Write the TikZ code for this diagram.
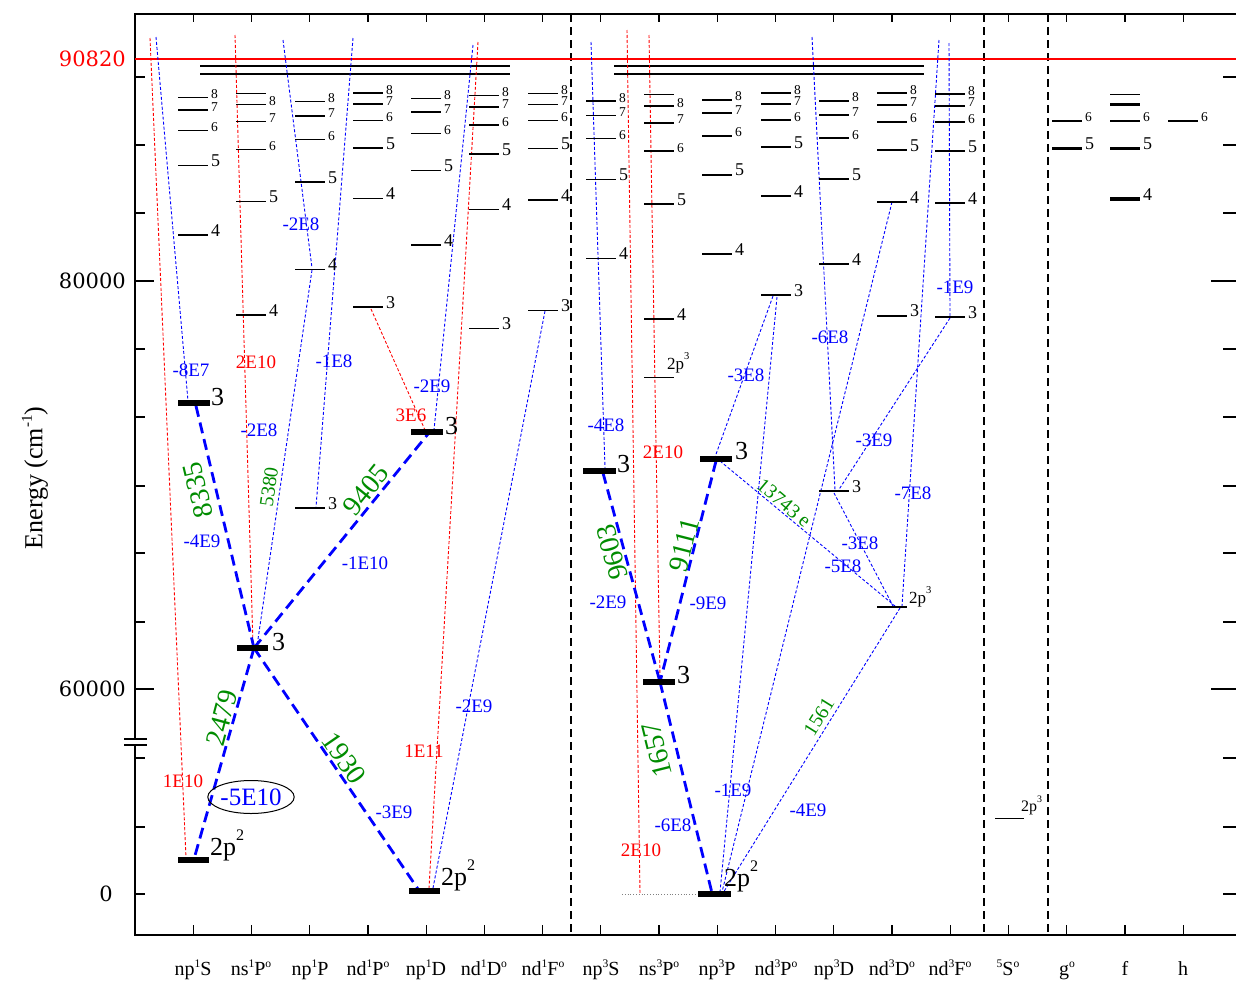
\documentclass[tikz,border=0pt]{standalone}
\usepackage{fontspec}
\setmainfont{Liberation Serif}
\newfontfamily\tickfont{DejaVu Serif}
\usetikzlibrary{shapes.geometric}
\newcommand\fs[1]{\fontsize{#1}{#1}\selectfont}
\newcommand\Sc[1]{\raisebox{0.4em}{\scalebox{0.58}{#1}}}
\newcommand\Su[1]{\raisebox{0.55em}{\scalebox{0.62}{#1}}}
\definecolor{dgreen}{RGB}{0,140,0}
\tikzset{
  every node/.style={inner sep=0pt},
  lvS/.style={line width=1.5pt},
  lvT/.style={line width=2.2pt},
  lvt/.style={line width=1.3pt},
  bar/.style={line width=6pt},
  strong/.style={blue,line width=2.8pt,dash pattern=on 11pt off 6pt},
  wb/.style={blue,line width=0.9pt,dash pattern=on 3pt off 2pt},
  wr/.style={red,line width=0.9pt,dash pattern=on 3pt off 2pt},
  sepl/.style={line width=1.4pt,dash pattern=on 8pt off 5pt},
  ab/.style={text=blue,font=\fs{19}},
  ar/.style={text=red,font=\fs{19}},
  wl/.style={text=dgreen,font=\fs{28}},
  wls/.style={text=dgreen,font=\fs{20}},
  nS/.style={font=\fs{13.5},anchor=base west},
  nM/.style={font=\fs{18},anchor=base west},
  nB/.style={font=\fs{26},anchor=base west},
  cat/.style={font=\fs{20},anchor=base},
  tk/.style={line width=1.2pt},
  tl/.style={font=\tickfont\fs{21}},
}
\newcommand\lvl[6]{%
  \draw[#4] (#2-15,#3) -- (#2+15,#3);
  \coordinate (#1) at (#2,#3);
  \node[#5] (#1l) at (#2+18,#3+1) {#6};}
\begin{document}
\begin{tikzpicture}[x=1pt,y=-1pt]
\useasboundingbox (0,0) rectangle (1236,980);
% frame
\draw[line width=1.8pt] (1236,14) -- (135,14) -- (135,935) -- (1236,935);
% y ticks
\foreach \yy in {281,689} {\draw[tk] (135,\yy) -- (154,\yy); \draw[tk] (1211,\yy) -- (1236,\yy);}
\foreach \yy in {77,145,213,349,417,486,553,622,758,827,894} {\draw[tk] (135,\yy) -- (145,\yy); \draw[tk] (1223,\yy) -- (1236,\yy);}
% axis break
\fill[white] (132,739) rectangle (138,745);
\draw[tk] (124,739) -- (147,739);
\draw[tk] (124,745) -- (147,745);
% x ticks
\foreach \k in {1,...,18} {\draw[tk] ({135+58.23*\k},935) -- ({135+58.23*\k},925); \draw[tk] ({135+58.23*\k},14) -- ({135+58.23*\k},22);}
% separators
\draw[sepl] (571,14) -- (571,935);
\draw[sepl] (984,14) -- (984,935);
\draw[sepl] (1048,14) -- (1048,935);
% tick labels
\node[tl,text=red,anchor=east] (t90) at (126,59) {90820};
\node[tl,anchor=east] (t80) at (126,281) {80000};
\node[tl,anchor=east] (t60) at (126,689) {60000};
\node[tl] (t0) at (106,894) {0};
\node[rotate=90,font=\fs{26}] (ylab) at (35,478) {Energy (cm\Sc{-1})};
% ionization line
\draw[red,line width=1.3pt] (135,59) -- (1236,59);
\draw[line width=1.5pt] (200,66) -- (510,66) (200,74) -- (510,74) (614,66) -- (924,66) (614,74) -- (924,74);

% ---------- transition coordinates ----------
\coordinate (tA) at (150,38); \coordinate (eA) at (186,858);
\coordinate (tB) at (156,37); \coordinate (eB) at (188,401);
\coordinate (tC) at (235,35); \coordinate (eC) at (253,645);
\coordinate (tD) at (283,40); \coordinate (eD) at (312,268);
\coordinate (eE1) at (312,270); \coordinate (eE2) at (257,646);
\coordinate (tF) at (353,38); \coordinate (eF) at (316,507);
\coordinate (tG) at (473,45); \coordinate (eG) at (434,430);
\coordinate (tH) at (478,42); \coordinate (eH) at (429,888);
\coordinate (eI1) at (545,311); \coordinate (eI2) at (433,888);
\coordinate (eJ1) at (371,309); \coordinate (eJ2) at (425,430);
\coordinate (k1) at (196,406); \coordinate (hub1) at (254,648);
\coordinate (k2) at (428,434); \coordinate (k3) at (194,859); \coordinate (k4) at (418,889);
\coordinate (tK) at (591,42); \coordinate (eK) at (605,468);
\coordinate (tL) at (627,30); \coordinate (eL) at (640,894);
\coordinate (tM) at (649,35); \coordinate (eM) at (660,678);
\coordinate (tN) at (812,37); \coordinate (eN) at (835,490);
\coordinate (tO) at (939,40); \coordinate (eO) at (902,606);
\coordinate (tP) at (949,43); \coordinate (eP) at (950,316);
\coordinate (eQ1) at (950,318); \coordinate (eQ2) at (838,491);
\coordinate (eR1) at (892,202); \coordinate (eR2) at (722,892);
\coordinate (eS1) at (773,296); \coordinate (eS2) at (715,457);
\coordinate (eT1) at (777,297); \coordinate (eT2) at (720,892);
\coordinate (eU1) at (720,461); \coordinate (eU2) at (895,606);
\coordinate (eV1) at (834,493); \coordinate (eV2) at (893,606);
\coordinate (eW1) at (900,608); \coordinate (eW2) at (723,893);
\coordinate (m1) at (603,473); \coordinate (hub2) at (660,682);
\coordinate (m2) at (716,461); \coordinate (m3) at (712,893);
\coordinate (g1) at (622,894); \coordinate (g2) at (700,894);

% ---------- weak transitions ----------
\draw[wr] (tA) -- (eA);
\draw[wb] (tB) -- (eB);
\draw[wr] (tC) -- (eC);
\draw[wb] (tD) -- (eD);
\draw[wb] (eE1) -- (eE2);
\draw[wb] (tF) -- (eF);
\draw[wb] (tG) -- (eG);
\draw[wr] (tH) -- (eH);
\draw[wb] (eI1) -- (eI2);
\draw[wr] (eJ1) -- (eJ2);
\draw[wb] (tK) -- (eK);
\draw[wr] (tL) -- (eL);
\draw[gray,line width=0.8pt,dotted] (g1) -- (g2);
\draw[wr] (tM) -- (eM);
\draw[wb] (tN) -- (eN);
\draw[wb] (tO) -- (eO);
\draw[wb] (tP) -- (eP);
\draw[wb] (eQ1) -- (eQ2);
\draw[wb] (eR1) -- (eR2);
\draw[wb] (eS1) -- (eS2);
\draw[wb] (eT1) -- (eT2);
\draw[wb] (eU1) -- (eU2);
\draw[wb] (eV1) -- (eV2);
\draw[wb] (eW1) -- (eW2);
% ---------- strong transitions ----------
\draw[strong] (k1) -- (hub1);
\draw[strong] (hub1) -- (k2);
\draw[strong] (hub1) -- (k3);
\draw[strong] (hub1) -- (k4);
\draw[strong] (m1) -- (hub2);
\draw[strong] (m2) -- (hub2);
\draw[strong] (hub2) -- (m3);

% ---------- singlet levels ----------
\lvl{a8}{193}{97.7}{lvt}{nS}{8}
\lvl{a7}{193}{110}{lvt}{nS}{7}
\lvl{a6}{193}{130.7}{lvt}{nS}{6}
\lvl{a5}{193}{165.7}{lvt}{nM}{5}
\lvl{a4}{193}{235}{lvt}{nM}{4}
\draw[bar] (178,403) -- (210,403); \node[nB] (a3l) at (211,405) {3};
\draw[bar] (178,860) -- (209,860); \node[nB] (a2l) at (210,855) {2p\Su{2}};

\draw[lvS] (236,93.3) -- (266,93.3); \coordinate (b9) at (251,93.3);
\lvl{b8}{251}{104.7}{lvS}{nS}{8}
\lvl{b7}{251}{121.3}{lvS}{nS}{7}
\lvl{b6}{251}{149.3}{lvS}{nS}{6}
\lvl{b5}{251}{201.7}{lvS}{nM}{5}
\lvl{b4}{251}{315}{lvS}{nM}{4}
\draw[bar] (237,648) -- (268,648); \node[nB] (b3l) at (272,650) {3};

\lvl{c8}{310}{101.3}{lvS}{nS}{8}
\lvl{c7}{310}{116}{lvS}{nS}{7}
\lvl{c6}{310}{139.3}{lvS}{nS}{6}
\lvl{c5}{310}{182}{lvS}{nM}{5}
\lvl{c4}{310}{269.3}{lvS}{nM}{4}
\lvl{c3}{310}{508}{lvS}{nM}{3}

\lvl{d8}{368}{93}{lvS}{nS}{8}
\lvl{d7}{368}{104}{lvS}{nS}{7}
\lvl{d6}{368}{120.7}{lvS}{nS}{6}
\lvl{d5}{368}{148}{lvS}{nM}{5}
\lvl{d4}{368}{198.3}{lvS}{nM}{4}
\lvl{d3}{368}{307}{lvS}{nM}{3}

\lvl{e8}{426}{98.3}{lvS}{nS}{8}
\lvl{e7}{426}{112}{lvS}{nS}{7}
\lvl{e6}{426}{133.3}{lvS}{nS}{6}
\lvl{e5}{426}{170.3}{lvS}{nM}{5}
\lvl{e4}{426}{245}{lvS}{nM}{4}
\draw[bar] (411,432.3) -- (443,432.3); \node[nB] (e3l) at (445,434) {3};
\draw[bar] (409,890.5) -- (440,890.5); \node[nB] (e2l) at (441,885) {2p\Su{2}};

\lvl{f8}{484}{95.7}{lvS}{nS}{8}
\lvl{f7}{484}{107}{lvS}{nS}{7}
\lvl{f6}{484}{125}{lvS}{nS}{6}
\lvl{f5}{484}{154}{lvS}{nM}{5}
\lvl{f4}{484}{209.3}{lvS}{nM}{4}
\lvl{f3}{484}{328.3}{lvS}{nM}{3}

\lvl{g8}{543}{93.3}{lvS}{nS}{8}
\lvl{g7}{543}{104.7}{lvS}{nS}{7}
\lvl{g6}{543}{120.7}{lvS}{nS}{6}
\lvl{g5}{543}{148.3}{lvS}{nM}{5}
\lvl{g4}{543}{200}{lvS}{nM}{4}
\lvl{g3}{543}{310.7}{lvS}{nM}{3}

% ---------- triplet levels ----------
\lvl{h8}{601}{101}{lvt}{nS}{8}
\lvl{h7}{601}{115.7}{lvt}{nS}{7}
\lvl{h6}{601}{138.3}{lvt}{nS}{6}
\lvl{h5}{601}{179.3}{lvt}{nM}{5}
\lvl{h4}{601}{258.3}{lvt}{nM}{4}
\draw[bar] (583,470.7) -- (616,470.7); \node[nB] (h3l) at (617,472) {3};

\draw[lvt] (644,94.7) -- (674,94.7); \coordinate (i9) at (659,94.7);
\lvl{i8}{659}{106}{lvT}{nS}{8}
\lvl{i7}{659}{122.7}{lvT}{nS}{7}
\lvl{i6}{659}{151}{lvT}{nS}{6}
\lvl{i5}{659}{204}{lvT}{nM}{5}
\lvl{i4}{659}{319.3}{lvT}{nM}{4}
\draw[lvS] (644,377.7) -- (674,377.7); \node[font=\fs{17},anchor=base west] (ipl) at (667,369) {2p\Su{3}};
\draw[bar] (643,681.7) -- (675,681.7); \node[nB] (i3l) at (677,683) {3};

\lvl{j8}{717}{99.7}{lvT}{nS}{8}
\lvl{j7}{717}{113.3}{lvT}{nS}{7}
\lvl{j6}{717}{135.7}{lvT}{nS}{6}
\lvl{j5}{717}{174.7}{lvT}{nM}{5}
\lvl{j4}{717}{254}{lvT}{nM}{4}
\draw[bar] (700,458.7) -- (732,458.7); \node[nB] (j3l) at (735,459) {3};
\draw[bar] (698,894) -- (731,894); \node[nB] (j2l) at (724,886) {2p\Su{2}};

\lvl{k8}{776}{93}{lvT}{nS}{8}
\lvl{k7}{776}{104}{lvT}{nS}{7}
\lvl{k6}{776}{120.3}{lvT}{nS}{6}
\lvl{k5}{776}{147.3}{lvT}{nM}{5}
\lvl{k4}{776}{196.3}{lvT}{nM}{4}
\lvl{k3}{776}{295}{lvT}{nM}{3}

\lvl{l8}{834}{100.7}{lvT}{nS}{8}
\lvl{l7}{834}{115}{lvT}{nS}{7}
\lvl{l6}{834}{138.3}{lvT}{nS}{6}
\lvl{l5}{834}{179.3}{lvT}{nM}{5}
\lvl{l4}{834}{264}{lvT}{nM}{4}
\lvl{l3}{834}{491.3}{lvT}{nM}{3}

\lvl{n8}{892}{93.3}{lvT}{nS}{8}
\lvl{n7}{892}{105.3}{lvT}{nS}{7}
\lvl{n6}{892}{121.7}{lvT}{nS}{6}
\lvl{n5}{892}{150}{lvT}{nM}{5}
\lvl{n4}{892}{202}{lvT}{nM}{4}
\lvl{n3}{892}{315.7}{lvT}{nM}{3}
\draw[lvT] (877,606.7) -- (907,606.7); \node[font=\fs{17},anchor=base west] (npl) at (909,603) {2p\Su{3}};

\lvl{o8}{950}{94.3}{lvT}{nS}{8}
\lvl{o7}{950}{105.7}{lvT}{nS}{7}
\lvl{o6}{950}{122.3}{lvT}{nS}{6}
\lvl{o5}{950}{151}{lvT}{nM}{5}
\lvl{o4}{950}{203.3}{lvT}{nM}{4}
\lvl{o3}{950}{317.3}{lvT}{nM}{3}

\draw[lvS] (995,818.3) -- (1024,818.3); \node[font=\fs{16},anchor=base west] (qpl) at (1021,811) {2p\Su{3}};

\lvl{r6}{1067}{120.7}{lvT}{nS}{6}
\lvl{r5}{1067}{148.3}{line width=2.6pt}{nM}{5}
\draw[lvS] (1110,94.3) -- (1140,94.3); \coordinate (s9) at (1125,94.3);
\draw[line width=3pt] (1110,104) -- (1140,104); \coordinate (s8) at (1125,104);
\lvl{s6}{1125}{120.7}{lvT}{nS}{6}
\lvl{s5}{1125}{148.3}{line width=2.6pt}{nM}{5}
\lvl{s4}{1125}{199.3}{line width=4pt}{nM}{4}
\lvl{u6}{1183}{120.7}{lvT}{nS}{6}

% ---------- transition labels ----------
\node[ab] (L1) at (191,370) {-8E7};
\node[ar] (L2) at (256,362) {2E10};
\node[ab] (L3) at (334,361) {-1E8};
\node[ab] (L4) at (432,386) {-2E9};
\node[ar] (L5) at (411,415) {3E6};
\node[ab] (L6) at (259,430) {-2E8};
\node[ab] (L7) at (301,224) {-2E8};
\node[ab] (L8) at (202,541) {-4E9};
\node[ab] (L9) at (365,563) {-1E10};
\node[ab] (L10) at (474,706) {-2E9};
\node[ar] (L11) at (424,751) {1E11};
\node[ar] (L12) at (183,781) {1E10};
\node[draw,ellipse,line width=1pt,minimum width=82pt,minimum height=33pt,text=blue,font=\fs{25}] (L13) at (251,797) {-5E10};
\node[ab] (L14) at (394,812) {-3E9};
\node[ab] (L15) at (606,425) {-4E8};
\node[ar] (L16) at (663,452) {2E10};
\node[ab] (L17) at (746,375) {-3E8};
\node[ab] (L18) at (830,337) {-6E8};
\node[ab] (L19) at (955,287) {-1E9};
\node[ab] (L20) at (874,440) {-3E9};
\node[ab] (L21) at (913,493) {-7E8};
\node[ab] (L22) at (860,543) {-3E8};
\node[ab] (L23) at (843,566) {-5E8};
\node[ab] (L24) at (608,602) {-2E9};
\node[ab] (L25) at (708,603) {-9E9};
\node[ab] (L26) at (733,790) {-1E9};
\node[ab] (L27) at (808,810) {-4E9};
\node[ab] (L28) at (673,825) {-6E8};
\node[ar] (L29) at (641,850) {2E10};
% wavelengths
\node[wl,rotate=103.5] (W1) at (198,490) {8335};
\node[wls,rotate=81.7] (W2) at (269,487) {5380};
\node[wl,rotate=51] (W3) at (366,490) {9405};
\node[wl,rotate=75] (W4) at (222,718) {2479};
\node[wl,rotate=-55.4] (W5) at (344,758) {1930};
\node[wl,rotate=105] (W6) at (612,552) {9603};
\node[wl,rotate=75.7] (W7) at (684,545) {9111};
\node[wl,rotate=104] (W8) at (657,750) {1657};
\node[wls,rotate=-40] (W9) at (784,503) {13743 e};
\node[wls,rotate=58] (W10) at (819,717) {1561};

% ---------- category labels ----------
\node[cat] (x1) at (193,975) {np\Sc{1}S};
\node[cat] (x2) at (251,975) {ns\Sc{1}P\Sc{o}};
\node[cat] (x3) at (310,975) {np\Sc{1}P};
\node[cat] (x4) at (368,975) {nd\Sc{1}P\Sc{o}};
\node[cat] (x5) at (426,975) {np\Sc{1}D};
\node[cat] (x6) at (484,975) {nd\Sc{1}D\Sc{o}};
\node[cat] (x7) at (543,975) {nd\Sc{1}F\Sc{o}};
\node[cat] (x8) at (601,975) {np\Sc{3}S};
\node[cat] (x9) at (659,975) {ns\Sc{3}P\Sc{o}};
\node[cat] (x10) at (717,975) {np\Sc{3}P};
\node[cat] (x11) at (776,975) {nd\Sc{3}P\Sc{o}};
\node[cat] (x12) at (834,975) {np\Sc{3}D};
\node[cat] (x13) at (892,975) {nd\Sc{3}D\Sc{o}};
\node[cat] (x14) at (950,975) {nd\Sc{3}F\Sc{o}};
\node[cat] (x15) at (1008,975) {\Sc{5}S\Sc{o}};
\node[cat] (x16) at (1067,975) {g\Sc{o}};
\node[cat] (x17) at (1125,975) {f};
\node[cat] (x18) at (1183,975) {h};
\end{tikzpicture}
\end{document}
